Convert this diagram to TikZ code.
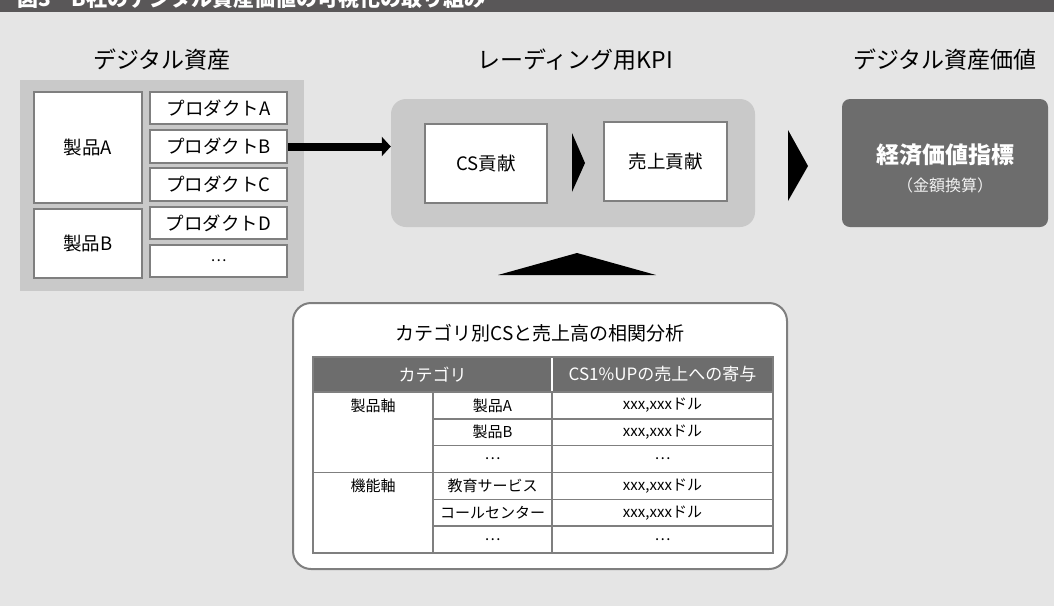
\documentclass[tikz,border=0pt]{standalone}
\usepackage{fontspec}
\setmainfont{Noto Sans CJK JP}
\usetikzlibrary{arrows.meta}
\definecolor{bgc}{HTML}{E5E5E5}
\definecolor{panelc}{HTML}{C9C9C9}
\definecolor{darkc}{HTML}{6D6D6D}
\definecolor{barc}{HTML}{595758}
\definecolor{edgec}{HTML}{7F7F7F}
\newcommand\fsz[1]{\fontsize{#1}{#1}\selectfont}
\newcommand\xd{xxx,xxxドル}
\begin{document}
\begin{tikzpicture}[x=1pt,y=-1pt,
  cell/.style={draw=edgec, line width=1.6pt, fill=white, inner sep=0pt, font=\fsz{18.5}, text=black},
  tcell/.style={draw=edgec, line width=1.5pt, fill=white, inner sep=0pt, font=\fsz{15}},
  ttl/.style={font=\fsz{23}, inner sep=0pt},
  hcell/.style={fill=darkc, inner sep=0pt, text=white, font=\fsz{17}, minimum height=35pt},
  chev/.style={fill=black}]
\useasboundingbox (0,0) rectangle (1054,606);
\fill[bgc] (0,0) rectangle (1054,606);
\fill[barc] (0,0) rectangle (1054,12);
\begin{scope}
\clip (0,0) rectangle (1054,12);
\node[anchor=base west, inner sep=0pt, text=white, font=\bfseries\fsz{21}] (hdr) at (17,6) {図3　B社のデジタル資産価値の可視化の取り組み};
\end{scope}
% titles
\node[ttl] (t1) at (162,60) {デジタル資産};
\node[ttl] (t2) at (575,60) {レーディング用KPI};
\node[ttl] (t3) at (945,60) {デジタル資産価値};
% left panel
\fill[panelc] (20,80) rectangle (304,291);
\node[cell, minimum width=108pt, minimum height=111pt] (pa) at (88,147.5) {製品A};
\node[cell, minimum width=108pt, minimum height=69pt] (pb) at (88,243.5) {製品B};
\node[cell, minimum width=137pt, minimum height=32pt] (da) at (218.5,108) {プロダクトA};
\node[cell, minimum width=137pt, minimum height=33pt] (db) at (218.5,146.5) {プロダクトB};
\node[cell, minimum width=137pt, minimum height=33pt] (dc) at (218.5,184.5) {プロダクトC};
\node[cell, minimum width=137pt, minimum height=32pt] (dd) at (218.5,223) {プロダクトD};
\node[cell, minimum width=137pt, minimum height=32pt, font=\fsz{15}] (de) at (218.5,261) {…};
% KPI panel
\node[fill=panelc, rounded corners=15pt, minimum width=364pt, minimum height=128pt, inner sep=0pt] (kpi) at (573,163) {};
\draw[line width=8pt, -{Triangle[length=9pt,width=19pt]}] (db.east) -- (kpi.west |- db.east);
\node[cell, minimum width=122pt, minimum height=79pt] (cs) at (486,163.5) {CS貢献};
\node[cell, minimum width=123pt, minimum height=79pt] (ur) at (665.5,161.5) {売上貢献};
\fill[chev] (572,133) -- (585,163) -- (572,192) -- cycle;
\fill[chev] (788,130) -- (808,166) -- (788,201) -- cycle;
\fill[chev] (498,275) -- (577,253) -- (656,275) -- cycle;
% value box
\node[fill=darkc, rounded corners=8pt, minimum width=206pt, minimum height=128pt, inner sep=0pt] (val) at (945,163) {};
\node[text=white, font=\bfseries\fsz{23}, inner sep=0pt] (vt) at (945,155) {経済価値指標};
\node[text=white!90!gray, font=\fsz{16}, inner sep=0pt] (vs) at (945,185) {（金額換算）};
% correlation box
\node[draw=edgec, line width=2pt, fill=white, rounded corners=18pt, minimum width=494pt, minimum height=266pt, inner sep=0pt] (cor) at (540,436) {};
\node[font=\fsz{19}, inner sep=0pt] (ct) at (540,333) {カテゴリ別CSと売上高の相関分析};
% table
\node[hcell, minimum width=239pt] (h1) at (432.5,374.5) {カテゴリ};
\node[hcell, minimum width=221pt] (h2) at (662.5,374.5) {CS1\%UPの売上への寄与};
\draw[white, line width=1.5pt] (h1.north east) -- (h1.south east);
\node[tcell, minimum width=120pt, minimum height=80.5pt] (g1) at (373,432.25) {};
\node[tcell, minimum width=120pt, minimum height=80.5pt] (g2) at (373,512.75) {};
\node[font=\fsz{15}, inner sep=0pt] (g1t) at (373,405.4) {製品軸};
\node[font=\fsz{15}, inner sep=0pt] (g2t) at (373,485.9) {機能軸};
\foreach \i/\b/\c in {1/製品A/\xd, 2/製品B/\xd, 3/…/…, 4/教育サービス/\xd, 5/コールセンター/\xd, 6/…/…} {
  \node[tcell, minimum width=119pt, minimum height=26.83pt] (b\i) at (492.5,{392+(\i-0.5)*26.83}) {\b};
  \node[tcell, minimum width=221pt, minimum height=26.83pt] (c\i) at (662.5,{392+(\i-0.5)*26.83}) {\c};
}
\draw[edgec, line width=1.5pt] (313,357) rectangle (773,553);
\end{tikzpicture}
\end{document}
